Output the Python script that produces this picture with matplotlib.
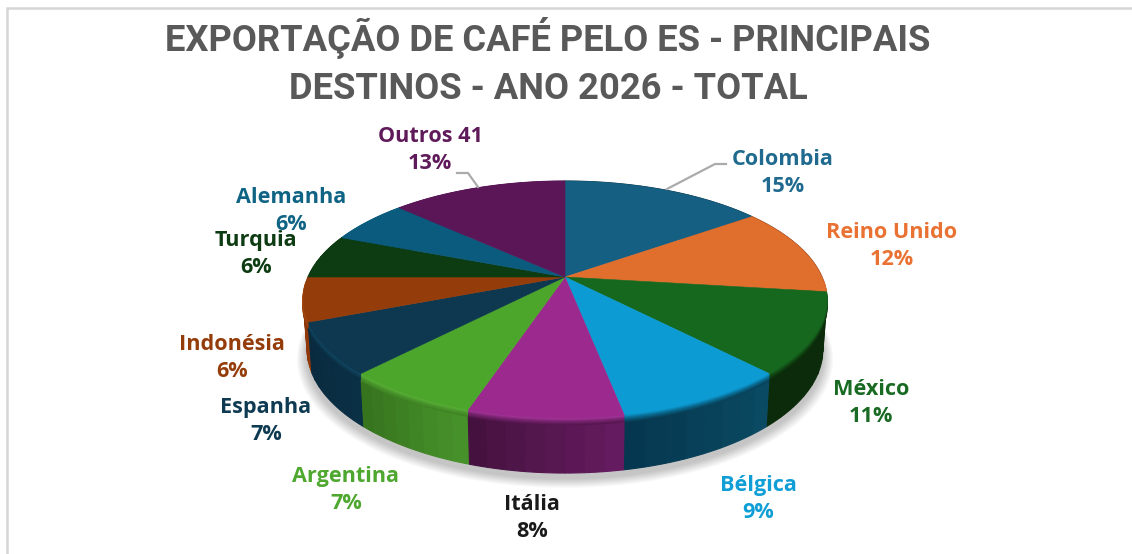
# exportacao de cafe - pizza 3D em perspectiva
import numpy as np
import matplotlib
matplotlib.use("Agg")
import matplotlib.pyplot as plt
from matplotlib.colors import to_rgb

TITULO = "EXPORTAÇÃO DE CAFÉ PELO ES - PRINCIPAIS\nDESTINOS - ANO 2026 - TOTAL"

destinos = ["Colombia", "Reino Unido", "México", "Bélgica", "Itália", "Argentina",
            "Espanha", "Indonésia", "Turquia", "Alemanha", "Outros 41"]
percentuais = [15, 12, 11, 9, 8, 7, 7, 6, 6, 6, 13]

# cores
COR_TOPO = ["#156082", "#E06E2D", "#17681F", "#0D9BD3", "#9C2A8E", "#4DA62C",
            "#0D3850", "#953C0B", "#0D3B12", "#0A5B7E", "#5A1657"]
COR_LADO_A = ["#0A3040", "#70351A", "#0B2B0A", "#0A4A62", "#651B5F", "#46912A",
              "#0A3045", "#93390A", "#0D3B12", "#0A5B7E", "#5A1657"]
COR_LADO_B = ["#0A3040", "#70351A", "#0B2B0A", "#053850", "#45123F", "#37741E",
              "#0A2A3E", "#7A3008", "#0D3B12", "#0A5B7E", "#5A1657"]
COR_BRILHO = [None, None, None, None, "#AE38A2", "#5CB53A", "#124A66", "#B0500F",
              None, None, None]
COR_TEXTO = ["#1F6A8E", "#E97132", "#196B24", "#0F9ED5", "#1A1A1A", "#4EA72E",
             "#0E3A52", "#953C0B", "#0D3B12", "#0F6385", "#5F1A5A"]

POS_LABEL = [(783, 173), (892, 246), (871, 403), (758, 499), (532, 518), (346, 490),
             (266, 421), (232, 358), (256, 254), (291, 211), (430, 150)]

LARGURA, ALTURA = 1132, 554
CX, CY = 565, 277
A, B, K = 257.0, 114.2, 0.19
PROF = 49


def projetar(theta, r=1.0):
    u, v = r * np.sin(theta), r * np.cos(theta)
    w = 1 + K * v
    return CX + A * u / w, CY - B * v / w


def projetar_base(theta, r=1.0):
    x, y = projetar(theta, r)
    return CX + (x - CX) * 0.985, CY + PROF + (y - CY) * 1.043


def misturar(c1, c2, t):
    c1, c2 = np.array(to_rgb(c1)), np.array(to_rgb(c2))
    return tuple(c1 + (c2 - c1) * t)


fig = plt.figure(figsize=(LARGURA / 100, ALTURA / 100), dpi=100, facecolor="white")
ax = fig.add_axes([0, 0, 1, 1])
ax.set_xlim(0, LARGURA)
ax.set_ylim(ALTURA, 0)
ax.axis("off")

# moldura
ax.plot([7, 7, LARGURA], [ALTURA, 8, 8], color="#D6D6D6", lw=1.8, solid_joinstyle="miter")

limites = np.cumsum([0] + percentuais) / 100 * 2 * np.pi
circulo = np.linspace(0, 2 * np.pi, 361)

# sombra
for i in range(10):
    xs, ys = projetar_base(circulo)
    esc = 1 + (10 - i) * 0.004
    ax.fill(CX + (xs - CX) * esc, CY + 5 + (ys - CY) * esc + (10 - i) * 0.2,
            color="black", alpha=0.022, lw=0, zorder=1)

# lateral
faixas = []
for i in range(len(percentuais)):
    angs = np.linspace(limites[i], limites[i + 1], 9)
    for j in range(len(angs) - 1):
        t = j / max(len(angs) - 2, 1)
        faixas.append((angs[j], angs[j + 1], misturar(COR_LADO_A[i], COR_LADO_B[i], t)))
faixas.sort(key=lambda f: -np.cos((f[0] + f[1]) / 2))
for a0, a1, cor in faixas:
    arco = np.linspace(a0, a1, 8)
    x0, y0 = projetar(arco)
    x1, y1 = projetar_base(arco[::-1])
    ax.fill(np.r_[x0, x1], np.r_[y0, y1], color=cor, lw=0.8, zorder=2)

# chanfro logo abaixo da borda
for i in range(len(percentuais)):
    angs = np.linspace(limites[i], limites[i + 1], 60)
    angs = angs[(angs > np.radians(92)) & (angs < np.radians(268))]
    if len(angs) < 2:
        continue
    x, y = projetar(angs)
    meio = misturar(COR_LADO_A[i], COR_LADO_B[i], 0.5)
    inicio = COR_BRILHO[i] or COR_TOPO[i]
    for d in np.arange(6.5, -0.5, -1.0):
        ax.plot(x, y + d, color=misturar(inicio, meio, min(d / 6.5, 1) ** 0.7), lw=1.3,
                solid_capstyle="butt", zorder=3)

# topo
for i in range(len(percentuais)):
    angs = np.linspace(limites[i], limites[i + 1], 80)
    x, y = projetar(angs)
    ax.fill(np.r_[CX, x], np.r_[CY, y], color=COR_TOPO[i], lw=0.4, zorder=4)

# linhas de chamada
ax.plot([667, 715, 726], [189, 164, 164], color="#ABABAB", lw=1.6, zorder=5)
ax.plot([478, 468, 457], [187, 173, 173], color="#ABABAB", lw=1.6, zorder=5)

# textos
ax.text(548, 62, TITULO, ha="center", va="center", fontsize=26.2, fontweight="bold",
        family="Roboto", color="#595959", linespacing=1.42, zorder=6)

for nome, pct, cor, (x, y) in zip(destinos, percentuais, COR_TEXTO, POS_LABEL):
    ax.text(x, y, f"{nome}\n{pct}%", ha="center", va="center", fontsize=15.6, fontweight="bold",
            family="Open Sans", color=cor, linespacing=1.38, zorder=6)

fig.savefig("out.png", dpi=100, facecolor="white")
